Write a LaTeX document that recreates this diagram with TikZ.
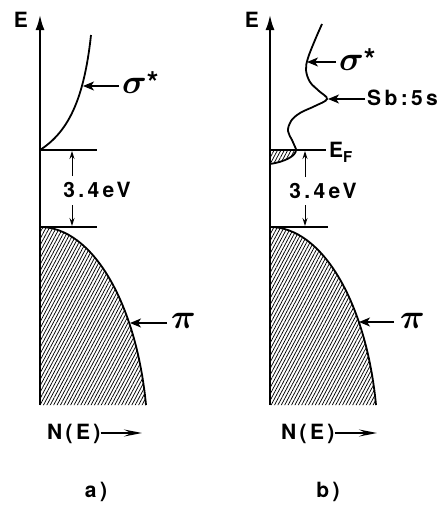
\documentclass[tikz,border=0pt]{standalone}
\usepackage{fontspec}
\usepackage{bm}
\newfontfamily\labfont[LetterSpace=16]{TeX Gyre Heros}
\newcommand\mylab{\labfont\bfseries\fontsize{21}{23}\selectfont}
\newcommand\mygreek{\fontsize{20}{22}\selectfont}
\newcommand\mysig{\scalebox{1.65}{$\bm{\sigma}$}}
\newcommand\mypi{\scalebox{1.65}{$\bm{\pi}$}}
\newcommand\mystar{{\labfont\bfseries\fontsize{30}{30}\selectfont *}}
\usetikzlibrary{arrows.meta,patterns.meta}
\begin{document}
\begin{tikzpicture}[x=1pt,y=-1pt,
  axis/.style={line width=2pt,-{Latex[length=15pt,width=9pt]}},
  curve/.style={line width=1.8pt},
  level/.style={line width=1.8pt},
  ptr/.style={line width=1.6pt,-{Stealth[length=11pt,width=9pt,inset=3pt]}},
  gap/.style={line width=1pt,-{Stealth[length=8pt,width=5pt]}},
  narrow/.style={line width=1.1pt,-{Stealth[length=18pt,width=7pt,inset=7pt]}},
  lab/.style={font=\mylab, inner sep=0pt},
  hatch/.style={pattern={Lines[angle=62,distance=3pt,line width=0.75pt]}}
]
\useasboundingbox (0,0) rectangle (441,506);

% ---------------- panel a ----------------
\coordinate (aBot) at (40,405);
\coordinate (aTop) at (40,15);
\fill[hatch] (aBot) -- (40,227) arc[start angle=-90,end angle=-11,x radius=108,y radius=220] -- cycle;
\draw[curve] (40,227) arc[start angle=-90,end angle=-11,x radius=108,y radius=220];
\draw[axis] (aBot) -- (aTop);
\node[lab] (aE) at (21,20) {E};

\draw[curve] (40,150) .. controls (68,132) and (84,100) .. (91,35);
\draw[level] (40,150) -- (97,150);
\draw[level] (40,227) -- (97,227);

\node[lab, anchor=base] (agap) at (97,197) {3.4eV};
\coordinate (agT) at (72,151);
\coordinate (agB) at (72,226);
\draw[gap] (72,176) -- (agT);
\draw[gap] (72,205) -- (agB);

\node[lab, anchor=base west, font=\mygreek] (asig) at (122,93) {\mysig\mystar};
\coordinate (asigT) at (83,86);
\draw[ptr] ([xshift=-3pt]asig.west |- asigT) -- (asigT);

\node[lab, anchor=base west, font=\mygreek] (api) at (171,328) {\mypi};
\coordinate (apiT) at (130,323);
\draw[ptr] ([xshift=-4pt]api.west |- apiT) -- (apiT);

\node[lab, anchor=west] (aN) at (47,434) {N(E)};
\coordinate (aNT) at (142,433);
\draw[narrow] (aN.east |- aNT) -- (aNT);

\node[lab] (alab) at (96,492) {a)};

% ---------------- panel b ----------------
\coordinate (bBot) at (270,405);
\coordinate (bTop) at (270,15);
\fill[hatch] (bBot) -- (270,227) arc[start angle=-90,end angle=-11,x radius=108,y radius=220] -- cycle;
\draw[curve] (270,227) arc[start angle=-90,end angle=-11,x radius=108,y radius=220];

\fill[hatch] (270,150) -- (296,150) .. controls (295,156) and (284,162) .. (270,164) -- cycle;
\draw[curve] (270,164) .. controls (284,162) and (297,156) .. (296,149);
\draw[curve] plot[smooth, tension=0.6] coordinates {(296,149) (292,140) (288,131) (291,121) (300,113) (315,106) (327,99) (319,91) (310,82) (306,70) (308,58) (315,40) (322,24)};

\draw[axis] (bBot) -- (bTop);
\node[lab] (bE) at (252,20) {E};

\draw[level] (270,150) -- (326,150);
\draw[level] (270,227) -- (328,227);
\node[lab, anchor=base west] (bEF) at (329,157) {E\raisebox{-5pt}{\fontsize{15}{15}\selectfont F}};

\node[lab, anchor=base] (bgap) at (323,198) {3.4eV};
\coordinate (bgT) at (305,151);
\coordinate (bgB) at (305,226);
\draw[gap] (305,177) -- (bgT);
\draw[gap] (305,205) -- (bgB);

\node[lab, anchor=base west, font=\mygreek] (bsig) at (339,70) {\mysig\mystar};
\coordinate (bsigT) at (307,62);
\draw[ptr] ([xshift=-3pt]bsig.west |- bsigT) -- (bsigT);

\node[lab, anchor=base west] (bsb) at (367,105) {Sb:5s};
\coordinate (bsbT) at (328,99);
\draw[ptr] ([xshift=-2pt]bsb.west |- bsbT) -- (bsbT);

\node[lab, anchor=base west, font=\mygreek] (bpi) at (400,328) {\mypi};
\coordinate (bpiT) at (359,322);
\draw[ptr] ([xshift=-6pt]bpi.west |- bpiT) -- (bpiT);

\node[lab, anchor=west] (bN) at (281,434) {N(E)};
\coordinate (bNT) at (377,433);
\draw[narrow] (bN.east |- bNT) -- (bNT);

\node[lab] (blab) at (328,492) {b)};
\end{tikzpicture}
\end{document}
